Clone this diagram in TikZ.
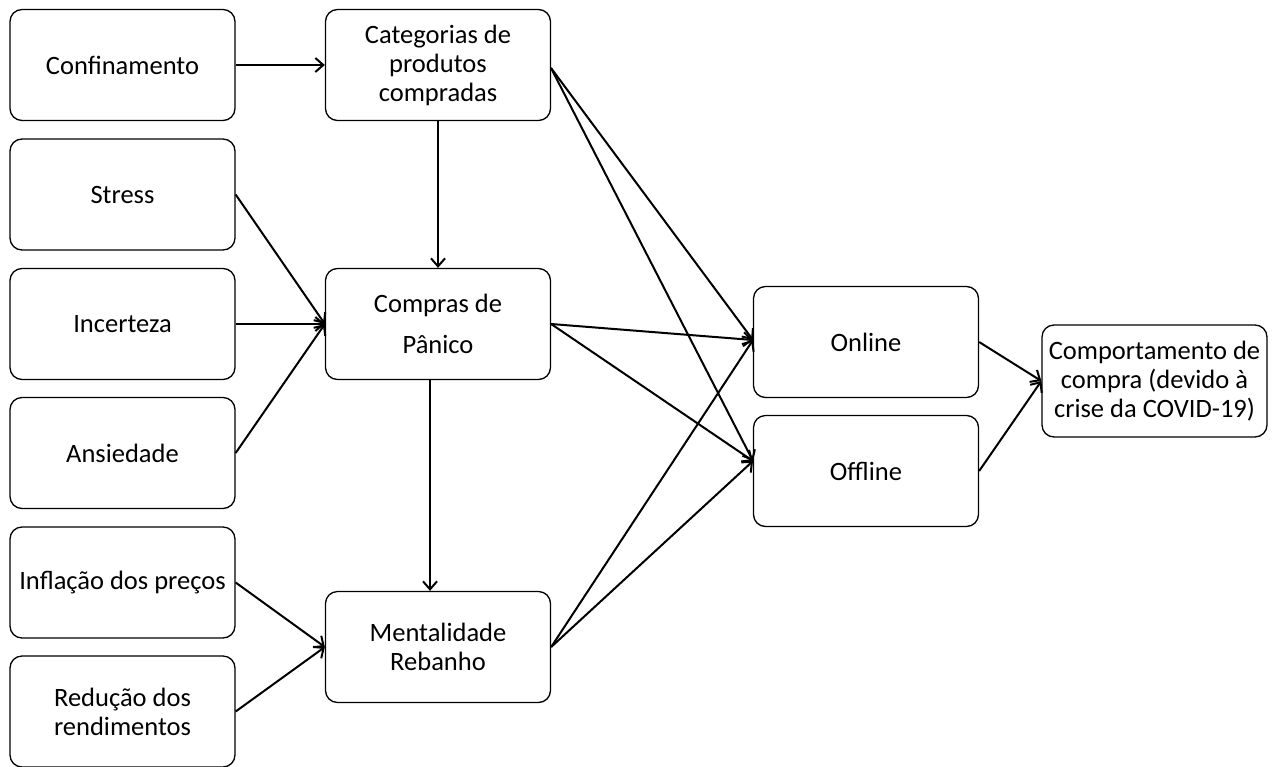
\documentclass[tikz,border=0pt]{standalone}
\usepackage{fontspec}
\setmainfont{Carlito}
\usetikzlibrary{arrows.meta}
\begin{document}
\begin{tikzpicture}[x=1pt,y=-1pt,
  box/.style={draw=black,line width=1.3pt,rounded corners=12pt,minimum width=225pt,minimum height=111pt,align=center,inner sep=2pt,font=\fontsize{26.5}{29}\selectfont},
  arr/.style={line width=2pt,-{Straight Barb[length=8pt,width=14pt,line width=2pt]}}]
\useasboundingbox (0,0) rectangle (1272,766);
\node[box] (conf) at (122.5,65) {Confinamento};
\node[box] (stress) at (122.5,194.5) {Stress};
\node[box] (inc) at (122.5,324) {Incerteza};
\node[box] (ans) at (122.5,453) {Ansiedade};
\node[box] (infl) at (122.5,582.5) {Inflação dos preços};
\node[box] (red) at (122.5,711.5) {Redução dos\\rendimentos};
\node[box] (cat) at (438,65) {Categorias de\\produtos\\compradas};
\node[box] (comp) at (438,324) {Compras de\\[12pt]Pânico};
\node[box] (ment) at (438,647) {Mentalidade\\Rebanho};
\node[box] (onl) at (866,342) {Online};
\node[box] (off) at (866,471) {Offline};
\node[box,minimum width=225pt,minimum height=112pt] (beh) at (1154.5,381) {Comportamento de\\compra (devido à\\crise da COVID-19)};
\coordinate (catE) at (551,68);
\coordinate (onlW) at (753,340);
\coordinate (offW) at (753,461);
\draw[arr] (conf.east) -- (cat.west);
\draw[arr] (cat.south) -- (comp.north);
\draw[arr] (stress.east) -- (comp.west);
\draw[arr] (inc.east) -- (comp.west);
\draw[arr] (ans.east) -- (comp.west);
\draw[arr] ([xshift=-8pt]comp.south) -- ([xshift=-8pt]ment.north);
\draw[arr] (infl.east) -- (ment.west);
\draw[arr] (red.east) -- (ment.west);
\draw[arr] (catE) -- (onlW);
\draw[arr] (catE) -- (offW);
\draw[arr] (comp.east) -- (onlW);
\draw[arr] (comp.east) -- (offW);
\draw[arr] (ment.east) -- (onlW);
\draw[arr] (ment.east) -- (offW);
\draw[arr] (onl.east) -- (beh.west);
\draw[arr] (off.east) -- (beh.west);
\end{tikzpicture}
\end{document}
